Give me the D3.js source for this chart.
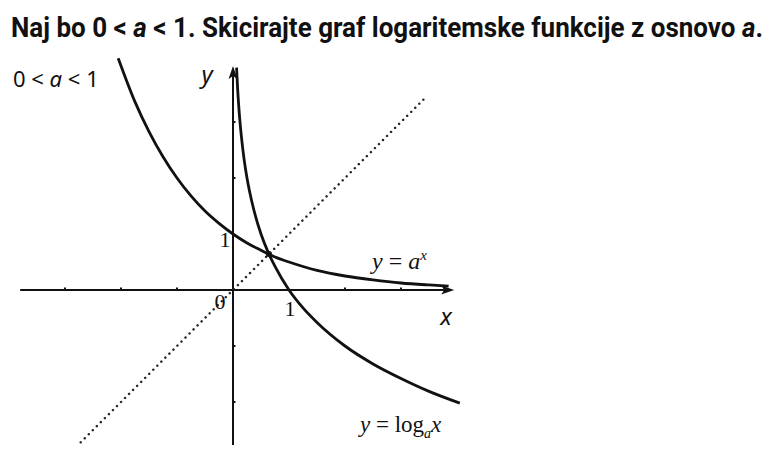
<!DOCTYPE html>
<html><head><meta charset="utf-8">
<script src="https://cdn.jsdelivr.net/npm/d3@7"></script>
<style>
html,body{margin:0;padding:0;background:#fff;}
svg{display:block;}
</style></head>
<body>
<svg id="c" width="776" height="454"></svg>
<script>
// ---- data ----
const titleParts = [["Naj bo 0 < ", false], ["a", true], [" < 1. Skicirajte graf logaritemske funkcije z osnovo ", false], ["a", true], [".", false]];
const xAxisExtent = [-3.8, 3.95];
const yAxisExtent = [-2.77, 4.0];
const xTicks = [-3, -2, -1, 2, 3];
const yTicks = [-2, -1, 2, 3];
// y = a^x with a = 1/2
const expPoints = [[-2.05,4.14],[-1.75,3.36],[-1.5,2.83],[-1.25,2.38],[-1,2],[-0.75,1.68],[-0.5,1.41],[-0.25,1.19],[0,1],[0.25,0.84],[0.5,0.71],[0.75,0.59],[1,0.5],[1.5,0.35],[2,0.25],[2.5,0.18],[3,0.125],[3.5,0.09],[3.85,0.07]];
// y = log_a x
const logPoints = [[0.064,3.97],[0.08,3.64],[0.1,3.32],[0.125,3],[0.15,2.74],[0.2,2.32],[0.25,2],[0.3,1.74],[0.375,1.42],[0.5,1],[0.625,0.68],[0.75,0.42],[1,0],[1.25,-0.32],[1.5,-0.58],[2,-1],[2.5,-1.32],[3,-1.58],[3.5,-1.81],[4.05,-2.02]];
const diagPoints = [[-2.72,-2.72],[3.42,3.42]];

// ---- scales ----
const unit = 56;
const x = d3.scaleLinear().domain([0,1]).range([233, 233+unit]);
const y = d3.scaleLinear().domain([0,1]).range([290, 290-unit]);

const svg = d3.select("#c");

// title: natural width measured, then squeezed horizontally to fit like the condensed original
const titleG = svg.append("g");
const title = titleG.append("text")
  .attr("x", 0).attr("y", 0)
  .attr("font-family", "Roboto, 'Liberation Sans', sans-serif")
  .attr("font-weight", 700)
  .attr("font-size", 27)
  .attr("fill", "#111");
title.selectAll("tspan").data(titleParts).join("tspan")
  .attr("font-style", d => d[1] ? "italic" : "normal")
  .text(d => d[0]);
const natural = title.node().getComputedTextLength();
const targetW = 752;
titleG.attr("transform", `translate(11,37) scale(${targetW / natural},1)`);

const g = svg.append("g");

// axes
g.append("line").attr("x1", x(xAxisExtent[0])).attr("x2", x(xAxisExtent[1]) - 6)
  .attr("y1", y(0)).attr("y2", y(0)).attr("stroke", "#111").attr("stroke-width", 2);
g.append("line").attr("x1", x(0)).attr("x2", x(0))
  .attr("y1", y(yAxisExtent[0])).attr("y2", y(yAxisExtent[1]) + 6)
  .attr("stroke", "#111").attr("stroke-width", 2);

// arrowheads
const xe = x(xAxisExtent[1]), ye = y(yAxisExtent[1]);
g.append("path").attr("d", `M${xe},${y(0)} L${xe-13},${y(0)-4.5} L${xe-10},${y(0)} L${xe-13},${y(0)+4.5}Z`).attr("fill", "#111");
g.append("path").attr("d", `M${x(0)},${ye} L${x(0)-4.5},${ye+13} L${x(0)},${ye+10} L${x(0)+4.5},${ye+13}Z`).attr("fill", "#111");

// ticks
g.selectAll(".xt").data(xTicks).join("line")
  .attr("x1", d => x(d)).attr("x2", d => x(d))
  .attr("y1", y(0)-2.5).attr("y2", y(0)).attr("stroke", "#111").attr("stroke-width", 2);
g.selectAll(".yt").data(yTicks).join("line")
  .attr("x1", x(0)).attr("x2", x(0)+2.5)
  .attr("y1", d => y(d)).attr("y2", d => y(d)).attr("stroke", "#111").attr("stroke-width", 2);

const line = d3.line().x(d => x(d[0])).y(d => y(d[1]));

// dotted y = x
g.append("path").attr("d", line(diagPoints))
  .attr("fill", "none").attr("stroke", "#222").attr("stroke-width", 2.4)
  .attr("stroke-linecap", "round").attr("stroke-dasharray", "0.1,5.6");

const curve = d3.line().x(d => x(d[0])).y(d => y(d[1])).curve(d3.curveMonotoneX);
g.append("path").attr("d", curve(expPoints))
  .attr("fill", "none").attr("stroke", "#111").attr("stroke-width", 2.8);
g.append("path").attr("d", curve(logPoints))
  .attr("fill", "none").attr("stroke", "#111").attr("stroke-width", 2.8);

// intersection dot
g.append("circle").attr("cx", x(0.641)).attr("cy", y(0.641)).attr("r", 3).attr("fill", "#111");

// labels
const serif = "'Liberation Serif', 'DejaVu Serif', serif";
function t(xp, yp, txt, opts = {}) {
  return svg.append("text").attr("x", xp).attr("y", yp)
    .attr("font-family", opts.family || serif)
    .attr("font-size", opts.size || 20)
    .attr("font-style", opts.italic ? "italic" : "normal")
    .attr("text-anchor", opts.anchor || "start")
    .attr("fill", "#111").text(txt);
}

// "0 < a < 1"
const lab = svg.append("text").attr("x", 13).attr("y", 87)
  .attr("font-family", "'Noto Sans', 'Open Sans', sans-serif").attr("font-size", 22).attr("fill", "#111");
lab.append("tspan").text("0 < ");
lab.append("tspan").attr("font-style", "italic").text("a");
lab.append("tspan").text(" < 1");

t(207, 83, "y", {italic: true, size: 24, anchor: "middle", family: "'Noto Sans', sans-serif"});
t(446, 325, "x", {italic: true, size: 24, anchor: "middle", family: "'Noto Sans', sans-serif"});
t(225, 247, "1", {size: 22, anchor: "middle"});
t(220, 309, "0", {size: 22, anchor: "middle"});
t(290, 316, "1", {size: 22, anchor: "middle"});

// y = a^x
const ea = svg.append("text").attr("x", 372).attr("y", 269)
  .attr("font-family", serif).attr("font-size", 24).attr("fill", "#111");
ea.append("tspan").attr("font-style", "italic").text("y");
ea.append("tspan").text(" = ");
ea.append("tspan").attr("font-style", "italic").text("a");
ea.append("tspan").attr("font-style", "italic").attr("font-size", 15).attr("dy", -9).text("x");

// y = log_a x
const la = svg.append("text").attr("x", 360).attr("y", 432)
  .attr("font-family", serif).attr("font-size", 23).attr("fill", "#111");
la.append("tspan").attr("font-style", "italic").text("y");
la.append("tspan").text(" = log");
la.append("tspan").attr("font-style", "italic").attr("font-size", 14).attr("dy", 6).text("a");
la.append("tspan").attr("font-style", "italic").attr("dy", -6).text("x");
</script>
</body></html>
